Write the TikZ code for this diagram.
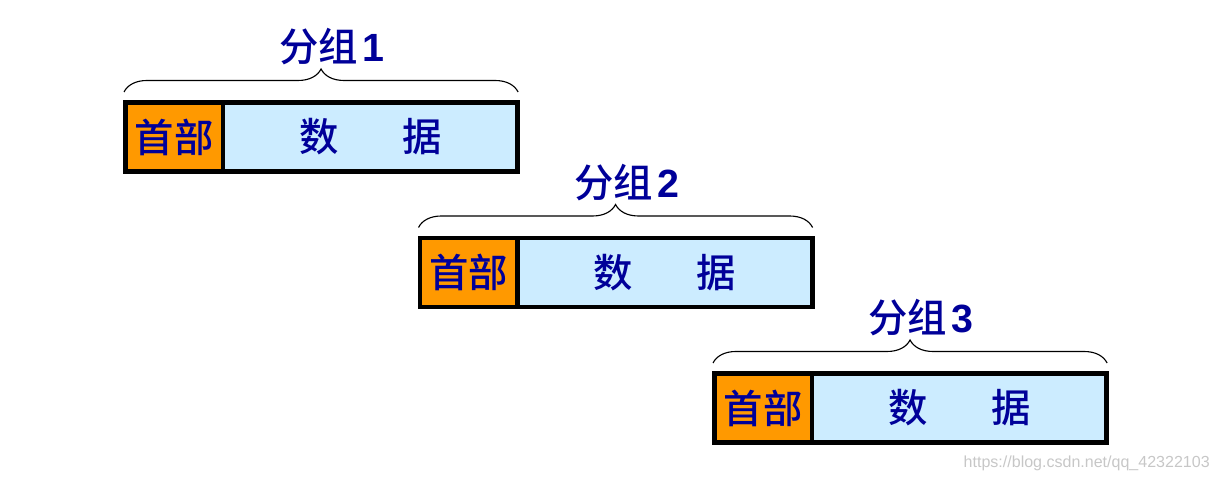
\documentclass[tikz,border=0pt]{standalone}
\usepackage{fontspec}
\setmainfont{Liberation Sans}
\newfontfamily\cjk{Noto Sans CJK SC Medium}
\usetikzlibrary{positioning,calc,decorations.pathreplacing}

\definecolor{hdrorange}{HTML}{FF9900}
\definecolor{datblue}{HTML}{CCECFF}
\definecolor{txtblue}{HTML}{000099}

\begin{document}
\begin{tikzpicture}[x=0.025cm, y=-0.025cm,
    box/.style={draw, line width=3.5pt, inner sep=0pt, outer sep=0pt,
        minimum height=1.725cm, text=txtblue,
        font=\cjk\fontsize{28}{30}\selectfont},
    hdr/.style={box, fill=hdrorange, minimum width=2.4375cm, anchor=west},
    dat/.style={box, fill=datblue, minimum width=7.3625cm, anchor=west},
    brc/.style={decorate, decoration={brace, amplitude=0.575cm}, line width=0.8pt},
    lbl/.style={text=txtblue, font=\bfseries\fontsize{28}{30}\selectfont}]
    \useasboundingbox (0,0) rectangle (1219,482);

    % three packets, each shifted right and down
    \foreach \i in {1,2,3}{
        \node[hdr] (h\i) at ({125.5+294.5*(\i-1)}, {137+135.5*(\i-1)}) {首部};
        \node[dat] (d\i) at (h\i.east) {数\hspace{1.62em}据};
        \coordinate (bl\i) at ($(h\i.north west)+(-1.5,-10.5)$);
        \coordinate (br\i) at ($(d\i.north east)+(0.5,-10.5)$);
        \draw[brc] (bl\i) -- (br\i);
        \node[lbl] (g\i) at ($(bl\i)!0.5!(br\i)+(11,-45)$) {{\cjk\mdseries 分组}\kern3pt\i};
    }

    % watermark
    \node[anchor=east, text=black!22, font=\fontsize{11.4}{13}\selectfont, inner sep=0pt]
        (wm) at (1210,463) {https://blog.csdn.net/qq\_42322103};
\end{tikzpicture}
\end{document}
